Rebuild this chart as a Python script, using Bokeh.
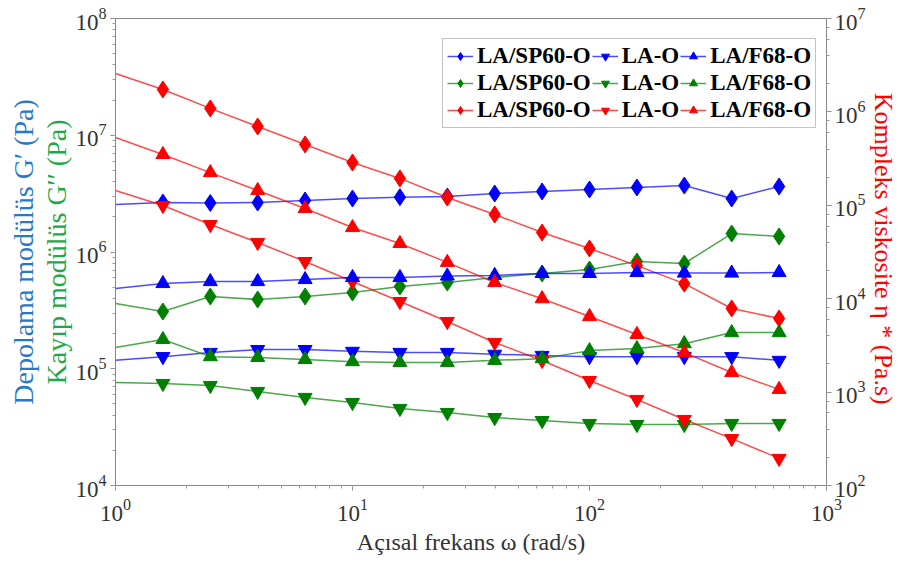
from bokeh.plotting import figure
from bokeh.models import LogAxis, Range1d, LogScale, Legend, LegendItem, FixedTicker
from bokeh.embed import file_html
from bokeh.resources import INLINE

# ---- data ----
omega = [1.0, 1.585, 2.512, 3.981, 6.310, 10.0, 15.85, 25.12, 39.81, 63.10,
         100.0, 158.5, 251.2, 398.1, 631.0]

# storage modulus G' (Pa)
g1_sp60 = [2.55e6, 2.65e6, 2.63e6, 2.65e6, 2.76e6, 2.87e6, 2.95e6, 2.99e6, 3.17e6,
           3.30e6, 3.43e6, 3.57e6, 3.71e6, 2.87e6, 3.64e6]
g1_lao = [1.18e5, 1.27e5, 1.38e5, 1.46e5, 1.46e5, 1.41e5, 1.38e5, 1.38e5, 1.33e5,
          1.30e5, 1.27e5, 1.27e5, 1.27e5, 1.27e5, 1.18e5]
g1_f68 = [4.87e5, 5.37e5, 5.58e5, 5.58e5, 5.81e5, 6.05e5, 6.05e5, 6.23e5, 6.30e5,
          6.55e5, 6.55e5, 6.67e5, 6.60e5, 6.60e5, 6.67e5]

# loss modulus G'' (Pa)
g2_sp60 = [3.62e5, 3.09e5, 4.16e5, 3.92e5, 4.16e5, 4.50e5, 5.06e5, 5.48e5, 6.05e5,
           6.55e5, 7.08e5, 8.29e5, 7.97e5, 1.44e6, 1.36e6]
g2_lao = [7.62e4, 7.48e4, 7.19e4, 6.39e4, 5.68e4, 5.14e4, 4.57e4, 4.22e4, 3.82e4,
          3.60e4, 3.40e4, 3.33e4, 3.33e4, 3.40e4, 3.40e4]
g2_f68 = [1.52e5, 1.78e5, 1.27e5, 1.25e5, 1.20e5, 1.15e5, 1.13e5, 1.13e5, 1.18e5,
          1.22e5, 1.43e5, 1.49e5, 1.64e5, 2.04e5, 2.04e5]

# complex viscosity eta* (Pa.s)
eta_sp60 = [2.58e6, 1.74e6, 1.09e6, 6.98e5, 4.48e5, 2.87e5, 1.94e5, 1.21e5, 7.97e4,
            5.11e4, 3.45e4, 2.26e4, 1.45e4, 7.86e3, 6.14e3]
eta_lao = [1.44e5, 9.95e4, 6.22e4, 4.00e4, 2.50e4, 1.53e4, 9.33e3, 5.70e3, 3.40e3,
           2.18e3, 1.33e3, 834, 509, 318, 195]
eta_f68 = [5.32e5, 3.50e5, 2.24e5, 1.44e5, 9.24e4, 5.78e4, 3.90e4, 2.45e4, 1.49e4,
           1.00e4, 6.44e3, 4.14e3, 2.65e3, 1.62e3, 1.07e3]

sample_names = ["LA/SP60-O", "LA-O", "LA/F68-O"]

x_label = "Açısal frekans ω (rad/s)"
y_label_g1 = "Depolama modülüs G′ (Pa)"
y_label_g2 = "Kayıp modülüs G′′ (Pa)"
y_label_eta = "Kompleks viskosite  η * (Pa.s)"

BLUE, GREEN, RED = "#0000ff", "#008000", "#ff0000"
SERIF = "Liberation Serif"

p = figure(width=900, height=571, x_axis_type="log", y_axis_type="log",
           x_range=Range1d(1, 1000), y_range=Range1d(1e4, 1e8),
           output_backend="svg", toolbar_location=None,
           min_border_left=115, min_border_right=70, min_border_top=18,
           min_border_bottom=86)
p.grid.visible = False
p.outline_line_color = "#888888"
p.background_fill_color = "white"

p.extra_y_ranges = {"visc": Range1d(1e2, 1e7)}
p.extra_y_scales = {"visc": LogScale()}


def style_axis(ax):
    ax.axis_line_color = "#888888"
    ax.major_tick_line_color = "#888888"
    ax.minor_tick_line_color = "#999999"
    ax.major_tick_out = 5
    ax.major_tick_in = 0
    ax.minor_tick_out = 3
    ax.minor_tick_in = 0
    ax.major_label_text_font = SERIF
    ax.major_label_text_font_size = "23px"
    ax.major_label_text_color = "#333333"
    ax.axis_label_text_font = SERIF
    ax.axis_label_text_font_style = "normal"


style_axis(p.xaxis[0])
p.xaxis[0].axis_label = x_label
p.xaxis[0].axis_label_text_font_size = "24px"
p.xaxis[0].axis_label_text_color = "#333333"
p.xaxis[0].major_label_standoff = 8
p.xaxis[0].axis_label_standoff = 5

style_axis(p.yaxis[0])
p.yaxis[0].axis_label = y_label_g2
p.yaxis[0].axis_label_text_font_size = "28px"
p.yaxis[0].axis_label_text_color = "#1fa84a"
p.yaxis[0].major_label_standoff = 4
p.yaxis[0].axis_label_standoff = 0

g1_axis = LogAxis(ticker=FixedTicker(ticks=[]), axis_line_color=None,
                  major_tick_line_color=None, minor_tick_line_color=None,
                  major_label_text_font_size="0px",
                  axis_label=y_label_g1, axis_label_text_font=SERIF,
                  axis_label_text_font_style="normal",
                  axis_label_text_font_size="28px",
                  axis_label_text_color="#2878c8", axis_label_standoff=0)
p.add_layout(g1_axis, "left")

eta_axis = LogAxis(y_range_name="visc")
style_axis(eta_axis)
eta_axis.axis_label = y_label_eta
eta_axis.axis_label_text_font_size = "26px"
eta_axis.axis_label_text_color = RED
eta_axis.major_label_standoff = 3
eta_axis.axis_label_standoff = 0
p.add_layout(eta_axis, "right")

series = [
    # (values, colour, marker, range name, sample index)
    (g1_sp60, BLUE, "diamond", "default", 0),
    (g2_sp60, GREEN, "diamond", "default", 0),
    (eta_sp60, RED, "diamond", "visc", 0),
    (g1_lao, BLUE, "inverted_triangle", "default", 1),
    (g2_lao, GREEN, "inverted_triangle", "default", 1),
    (eta_lao, RED, "inverted_triangle", "visc", 1),
    (g1_f68, BLUE, "triangle", "default", 2),
    (g2_f68, GREEN, "triangle", "default", 2),
    (eta_f68, RED, "triangle", "visc", 2),
]

items = []
for vals, col, mk, rng, si in series:
    ln = p.line(omega, vals, line_color=col, line_alpha=0.7, line_width=1.5,
                y_range_name=rng)
    sz = 17 if mk == "diamond" else 14
    sc = p.scatter(omega[1:], vals[1:], marker=mk, size=sz,
                   fill_color=col, line_color=col, y_range_name=rng)
    items.append(LegendItem(label=sample_names[si], renderers=[ln, sc]))

legend = Legend(items=items, ncols=3, location=(327, 357),
                label_text_font=SERIF, label_text_font_style="bold",
                label_text_font_size="23px", label_text_color="black",
                label_standoff=4, glyph_width=26, glyph_height=20,
                spacing=1, padding=4, margin=0,
                border_line_color="#888888", background_fill_alpha=1.0)
p.add_layout(legend, "center")

open("out.html", "w").write(file_html(p, INLINE))
